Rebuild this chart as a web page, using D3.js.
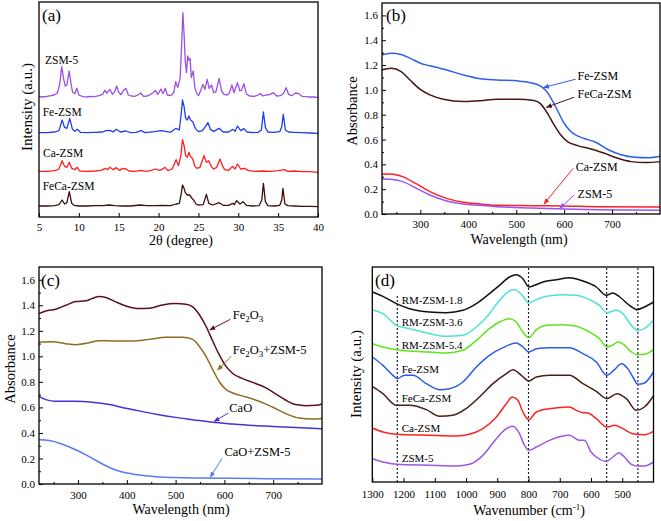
<!DOCTYPE html>
<html><head><meta charset="utf-8">
<script src="https://cdn.jsdelivr.net/npm/d3@7"></script>
<style>
body{margin:0;background:#fff}
svg{display:block}
</style></head>
<body><svg id="c" width="661" height="521" font-family="Liberation Serif"></svg>
<script>
// ---------------- Panel (a) XRD: [2theta, intensity above own baseline] ----------------
const xrdZSM5 = [[5.0,3],[5.5,2],[6.0,4],[6.5,6],[6.9,8],[7.3,14],[7.6,40],[7.85,93],[8.1,55],[8.3,35],[8.5,38],[8.78,80],[9.0,45],[9.2,18],[9.5,12],[9.75,28],[10.0,8],[10.5,3],[11.0,2],[11.5,4],[12.0,3],[12.5,6],[13.0,10],[13.25,22],[13.5,14],[13.9,25],[14.2,10],[14.5,18],[14.75,35],[15.0,16],[15.3,9],[15.55,20],[15.9,28],[16.2,8],[16.6,5],[17.0,4],[17.4,8],[17.75,14],[18.1,4],[18.6,5],[19.0,10],[19.3,15],[19.6,22],[19.9,10],[20.3,26],[20.55,12],[20.85,28],[21.1,8],[21.5,6],[21.9,15],[22.15,48],[22.4,30],[22.7,58],[22.9,160],[23.05,255],[23.2,190],[23.35,110],[23.5,75],[23.65,125],[23.8,112],[23.95,118],[24.1,60],[24.35,80],[24.55,30],[24.8,12],[25.0,6],[25.3,22],[25.55,40],[25.8,25],[26.1,55],[26.35,28],[26.65,38],[26.9,15],[27.2,18],[27.6,58],[27.9,20],[28.2,10],[28.6,8],[28.9,15],[29.2,38],[29.45,15],[29.9,45],[30.2,20],[30.4,22],[30.7,42],[31.0,12],[31.4,5],[32.0,4],[32.5,8],[32.8,12],[33.1,5],[33.5,8],[34.0,10],[34.4,15],[34.8,5],[35.3,6],[35.7,14],[36.0,30],[36.3,10],[36.7,6],[37.2,14],[37.6,12],[38.0,4],[38.5,3],[39.0,2],[39.5,2],[40.0,0]];
const xrdFe = [[5.0,2],[6.0,2],[7.0,4],[7.5,8],[7.9,40],[8.2,18],[8.5,15],[8.85,45],[9.2,12],[9.5,6],[9.8,12],[10.2,3],[11,2],[12,3],[13,4],[13.4,8],[13.9,9],[14.3,4],[14.7,12],[15.2,4],[15.9,7],[16.5,2],[17.2,3],[17.8,8],[18.3,2],[19.5,5],[20.3,8],[20.9,6],[21.5,3],[22.2,15],[22.6,10],[22.85,60],[23.0,100],[23.2,80],[23.4,45],[23.6,40],[23.8,52],[24.0,40],[24.3,35],[24.6,15],[25.0,5],[25.5,8],[25.8,18],[26.2,32],[26.5,12],[26.9,6],[27.6,15],[28.1,4],[28.8,4],[29.3,12],[29.6,6],[29.9,22],[30.3,8],[30.7,14],[31.1,4],[31.8,2],[32.5,3],[32.9,10],[33.15,64],[33.4,18],[33.7,4],[34.5,3],[35.2,5],[35.45,20],[35.65,57],[35.9,10],[36.3,4],[37.0,3],[38,2],[39,1],[40,0]];
const xrdCa = [[5.0,3],[6.0,3],[7.0,5],[7.5,10],[7.9,35],[8.2,18],[8.5,15],[8.8,30],[9.1,12],[9.5,8],[9.8,15],[10.1,4],[11,3],[12,4],[12.8,6],[13.3,12],[13.6,8],[13.9,15],[14.3,8],[14.7,14],[15.1,6],[15.5,12],[15.9,10],[16.3,4],[17.0,3],[17.8,6],[18.4,3],[19.1,6],[19.6,10],[20.1,6],[20.4,8],[20.8,15],[21.2,5],[21.7,10],[22.2,38],[22.5,20],[22.8,50],[23.0,98],[23.2,80],[23.4,50],[23.6,45],[23.8,60],[24.0,48],[24.3,40],[24.5,20],[24.8,12],[25.2,15],[25.7,50],[26.0,30],[26.3,35],[26.6,18],[26.9,10],[27.3,15],[27.7,40],[28.0,20],[28.3,8],[28.8,6],[29.3,18],[29.6,10],[29.9,25],[30.3,10],[30.8,12],[31.3,5],[32.0,3],[33.0,4],[34.0,3],[35.0,5],[35.8,8],[36.2,3],[37,4],[38,2],[39,2],[40,0]];
const xrdFeCa = [[5.0,2],[6.0,2],[7.0,3],[7.5,6],[7.9,20],[8.2,8],[8.5,12],[8.8,45],[9.1,10],[9.4,4],[10,2],[11,2],[12,3],[13,3],[13.8,5],[14.5,3],[15.5,2],[16.5,2],[17.7,5],[18.5,3],[19.5,3],[20.5,4],[21.5,3],[22.2,8],[22.6,10],[22.85,40],[23.0,65],[23.2,55],[23.35,42],[23.6,35],[23.9,35],[24.2,25],[24.4,20],[24.7,8],[25.0,5],[25.6,6],[26.0,37],[26.3,10],[26.8,5],[27.6,12],[28.1,4],[28.8,4],[29.3,10],[29.5,6],[29.8,18],[30.2,8],[30.6,15],[31.0,4],[31.8,2],[32.6,3],[32.95,20],[33.15,70],[33.4,15],[33.7,3],[34.5,2],[35.2,4],[35.45,20],[35.6,55],[35.85,8],[36.2,3],[37,2],[38,1],[39,1],[40,0]];
const xrdNames = ["ZSM-5","Fe-ZSM","Ca-ZSM","FeCa-ZSM"];
const xrdOffsets = [358,251,134,31];
const xrdColors = ["#9b4fe6","#1f3df2","#ff1f1f","#3f0d0d"];
const xrdLabelPos = [[5.75,459],[5.46,304],[5.5,179],[5.46,82]];
const xrdTicks = [5,10,15,20,25,30,35,40];

// ---------------- Panel (b) UV-vis ----------------
const uvbFe = [[220,1.283],[239,1.296],[260,1.285],[278,1.256],[300,1.215],[320,1.194],[340,1.175],[355,1.16],[390,1.12],[425,1.09],[460,1.08],[502,1.073],[530,1.058],[551,1.03],[565,0.98],[582,0.866],[600,0.731],[614,0.664],[642,0.608],[665,0.58],[691,0.52],[719,0.478],[747,0.458],[775,0.454],[800,0.466]];
const uvbFeCa = [[220,1.162],[239,1.175],[260,1.148],[278,1.081],[299,1.006],[320,0.96],[348,0.925],[390,0.906],[425,0.912],[460,0.925],[502,0.925],[537,0.914],[551,0.887],[565,0.812],[579,0.718],[593,0.637],[607,0.583],[628,0.551],[656,0.524],[684,0.489],[712,0.449],[740,0.422],[768,0.414],[800,0.422]];
const uvbCa = [[220,0.32],[239,0.323],[263,0.301],[292,0.242],[320,0.18],[355,0.126],[390,0.094],[425,0.081],[460,0.07],[530,0.067],[600,0.065],[670,0.059],[800,0.056]];
const uvbZSM5 = [[220,0.282],[239,0.28],[263,0.261],[292,0.207],[320,0.153],[355,0.105],[390,0.081],[425,0.07],[460,0.059],[530,0.048],[600,0.04],[670,0.035],[800,0.03]];
const uvbNames = ["Fe-ZSM","FeCa-ZSM","Ca-ZSM","ZSM-5"];
const uvbColors = ["#2f5ef0","#4a1414","#ff2020","#9b52f0"];
const uvbText = [[628,1.08],[628,0.933],[624,0.347],[628,0.129]];
const uvbArrow = [[624,1.086,557,1.019],[621,0.941,563,0.86],[619,0.368,558,0.081],[621,0.153,591,0.046]];

// ---------------- Panel (c) UV-vis ----------------
const uvcFe2O3 = [[220,1.335],[234,1.356],[254,1.369],[275,1.40],[295,1.43],[316,1.435],[329,1.453],[343,1.469],[357,1.461],[377,1.427],[398,1.395],[425,1.374],[446,1.377],[473,1.403],[500,1.414],[521,1.409],[535,1.388],[548,1.33],[562,1.238],[576,1.12],[589,1.015],[603,0.923],[617,0.866],[637,0.826],[664,0.787],[685,0.753],[705,0.706],[726,0.656],[746,0.622],[767,0.614],[788,0.616],[800,0.627]];
const uvcFe2O3Z = [[220,1.112],[247,1.115],[275,1.099],[295,1.091],[323,1.107],[343,1.123],[377,1.12],[411,1.12],[446,1.133],[480,1.149],[514,1.149],[535,1.133],[548,1.081],[562,1.002],[576,0.897],[589,0.805],[603,0.74],[617,0.713],[644,0.682],[671,0.648],[699,0.601],[726,0.551],[753,0.517],[781,0.509],[800,0.514]];
const uvcCaO = [[220,0.687],[234,0.661],[254,0.648],[295,0.648],[329,0.64],[364,0.622],[398,0.593],[432,0.567],[466,0.543],[500,0.522],[535,0.504],[576,0.483],[617,0.47],[658,0.459],[699,0.451],[746,0.443],[800,0.433]];
const uvcCaOZ = [[220,0.346],[241,0.341],[268,0.312],[295,0.268],[323,0.215],[350,0.157],[377,0.11],[411,0.079],[446,0.063],[480,0.052],[548,0.047],[617,0.045],[685,0.042],[800,0.039]];
const uvcColors = ["#5c0f1f","#8f6b1e","#4a30d6","#5a7cf0"];
const uvcText = [[617,1.296],[617,1.015],[610,0.561],[600,0.223]];
const uvcArrow = [[612,1.29,570,1.207],[614,1.0,586,0.892],[608,0.556,579,0.49],[595,0.202,571,0.052]];
const uvTicks = [300,400,500,600,700];
const absTicks = [0,0.2,0.4,0.6,0.8,1.0,1.2,1.4,1.6];

// ---------------- Panel (d) FTIR ----------------
const irRM18 = [[1300,570],[1266,557],[1223,535],[1181,520],[1117,510],[1063,508],[1010,515],[967,535],[925,565],[893,590],[861,615],[839,622],[818,610],[799,585],[781,590],[754,600],[711,607],[669,613],[626,603],[583,585],[551,560],[530,567],[508,555],[477,530],[453,517],[429,525],[400,540]];
const irRM36 = [[1300,517],[1266,505],[1223,470],[1181,460],[1117,445],[1063,437],[1010,440],[967,465],[925,505],[893,545],[861,573],[845,577],[823,563],[799,537],[775,547],[743,557],[690,562],[647,560],[605,547],[573,530],[549,508],[519,515],[498,505],[471,470],[450,455],[429,460],[400,485]];
const irRM54 = [[1300,415],[1266,405],[1223,397],[1181,393],[1117,390],[1063,387],[1010,395],[967,425],[925,460],[893,480],[861,490],[839,480],[818,450],[799,433],[775,457],[743,470],[690,472],[647,467],[605,450],[573,430],[549,405],[532,410],[514,420],[492,410],[471,390],[450,382],[429,383],[400,397]];
const irFe = [[1300,375],[1266,350],[1234,320],[1220,310],[1197,320],[1170,320],[1127,295],[1085,277],[1053,280],[1010,300],[967,345],[925,380],[882,403],[839,417],[818,405],[799,390],[775,400],[733,403],[669,403],[626,385],[583,360],[549,320],[525,337],[503,355],[482,340],[466,315],[450,293],[429,297],[400,330]];
const irFeCa = [[1300,287],[1266,265],[1223,230],[1181,230],[1127,217],[1085,197],[1042,200],[1000,220],[957,255],[914,295],[871,325],[850,337],[823,320],[799,303],[775,315],[733,320],[669,320],[626,295],[583,272],[549,250],[517,265],[487,250],[455,215],[429,225],[400,258]];
const irCa = [[1300,162],[1266,150],[1223,143],[1117,140],[1031,138],[989,143],[946,160],[903,195],[871,235],[852,255],[834,245],[818,210],[799,187],[775,210],[733,220],[669,225],[647,215],[626,208],[610,207],[583,190],[549,165],[525,170],[498,160],[466,145],[429,142],[400,152]];
const irZSM5 = [[1300,70],[1266,60],[1223,53],[1117,50],[1031,48],[989,53],[946,80],[903,130],[871,160],[850,167],[829,145],[813,110],[799,95],[775,105],[733,125],[669,140],[637,125],[621,125],[600,90],[583,75],[551,62],[530,75],[511,88],[493,75],[471,53],[450,48],[429,48],[400,60]];
const irNames = ["RM-ZSM-1.8","RM-ZSM-3.6","RM-ZSM-5.4","Fe-ZSM","FeCa-ZSM","Ca-ZSM","ZSM-5"];
const irColors = ["#111111","#4fe3d3","#5fe41f","#2c5ae8","#4a1e14","#ff2020","#9a58e6"];
const irLabelY = [535,468,398,328,241,151,60];
const irLabelX = 1206;
const irRefLines = [[1220,564],[800,645],[550,645],[450,645]];
const irTicks = [1300,1200,1100,1000,900,800,700,600,500];

// ================= drawing =================
const FF = "Liberation Serif";
const svg = d3.select("#c");
const defs = svg.append("defs");
function marker(id, color){
  defs.append("marker").attr("id",id).attr("viewBox","0 0 10 10").attr("refX",9).attr("refY",5)
    .attr("markerWidth",6).attr("markerHeight",6).attr("orient","auto").attr("markerUnits","userSpaceOnUse")
    .append("path").attr("d","M0,1 L10,5 L0,9 Z").attr("fill",color);
}
function frame(b){
  svg.append("rect").attr("x",b.l).attr("y",b.t).attr("width",b.r-b.l).attr("height",b.b-b.t)
    .attr("fill","none").attr("stroke","#000").attr("stroke-width",1.3);
}
function xAxis(b, x, ticks, minor, fmt, pad){
  const g = svg.append("g").attr("transform",`translate(0,${b.b})`);
  g.call(d3.axisBottom(x).tickValues(ticks).tickSizeInner(-4).tickSizeOuter(0).tickPadding(pad).tickFormat(fmt));
  g.attr("font-family",FF).attr("font-size",11);
  g.select(".domain").remove();
  g.selectAll("text").attr("font-family",FF).attr("font-size",11).attr("fill","#000");
  g.selectAll("line").attr("stroke","#000").attr("stroke-width",1);
  if(minor){
    const m = svg.append("g").attr("transform",`translate(0,${b.b})`);
    m.call(d3.axisBottom(x).tickValues(minor).tickSizeInner(-2).tickSizeOuter(0).tickFormat(""));
    m.select(".domain").remove();
  }
}
function yAxis(b, y, ticks, minor, fmt){
  const g = svg.append("g").attr("transform",`translate(${b.l},0)`);
  g.call(d3.axisLeft(y).tickValues(ticks).tickSizeInner(-4).tickSizeOuter(0).tickPadding(4).tickFormat(fmt));
  g.attr("font-family",FF).attr("font-size",11);
  g.select(".domain").remove();
  g.selectAll("text").attr("font-family",FF).attr("font-size",11).attr("fill","#000");
  if(minor){
    const m = svg.append("g").attr("transform",`translate(${b.l},0)`);
    m.call(d3.axisLeft(y).tickValues(minor).tickSizeInner(-2).tickSizeOuter(0).tickFormat(""));
    m.select(".domain").remove();
  }
}
function ytitle(x, y, txt, fs){
  svg.append("text").attr("transform",`translate(${x},${y}) rotate(-90)`).attr("text-anchor","middle")
    .attr("font-family",FF).attr("font-size",fs).text(txt);
}
function label(x,y,txt,fs,anchor){
  return svg.append("text").attr("x",x).attr("y",y).attr("font-family",FF).attr("font-size",fs)
    .attr("text-anchor",anchor||"start").text(txt);
}
function lineOf(x,y,curve){ return d3.line().x(d=>x(d[0])).y(d=>y(d[1])).curve(curve); }

// ---- (a)
{
  const b = {l:39,r:318,t:2,b:217};
  const x = d3.scaleLinear().domain([5,40]).range([b.l,b.r]);
  const y = d3.scaleLinear().domain([0,645]).range([b.b,b.t]);
  const series = [xrdZSM5,xrdFe,xrdCa,xrdFeCa];
  series.forEach((s,i)=>{
    const ln = d3.line().x(d=>x(d[0])).y(d=>y(d[1]+xrdOffsets[i]));
    svg.append("path").attr("d",ln(s)).attr("fill","none").attr("stroke",xrdColors[i]).attr("stroke-width",1.3).attr("stroke-linejoin","round");
    label(x(xrdLabelPos[i][0]), y(xrdLabelPos[i][1]), xrdNames[i], 11.5);
  });
  frame(b);
  xAxis(b, x, xrdTicks, null, d3.format("d"), 6);
  label(42,21,"(a)",17);
  ytitle(32,107,"Intensity (a.u.)",15);
  label(181,245,"2θ (degree)",14,"middle");
}

// ---- (b)
{
  const b = {l:382,r:660,t:3,b:214};
  const x = d3.scaleLinear().domain([220,800]).range([b.l,b.r]);
  const y = d3.scaleLinear().domain([0,1.7]).range([b.b,b.t]);
  const series = [uvbFe,uvbFeCa,uvbCa,uvbZSM5];
  series.forEach((s,i)=>{
    svg.append("path").attr("d",lineOf(x,y,d3.curveMonotoneX)(s)).attr("fill","none").attr("stroke",uvbColors[i]).attr("stroke-width",1.5);
  });
  series.forEach((s,i)=>{
    marker("mb"+i, uvbColors[i]);
    const a = uvbArrow[i];
    svg.append("line").attr("x1",x(a[0])).attr("y1",y(a[1])).attr("x2",x(a[2])).attr("y2",y(a[3]))
      .attr("stroke",uvbColors[i]).attr("stroke-width",1).attr("marker-end",`url(#mb${i})`);
    label(x(uvbText[i][0]), y(uvbText[i][1]), uvbNames[i], 12);
  });
  frame(b);
  xAxis(b, x, uvTicks, [250,350,450,550,650,750], d3.format("d"), 6);
  yAxis(b, y, absTicks, [0.1,0.3,0.5,0.7,0.9,1.1,1.3,1.5], d3.format(".1f"));
  label(386,21,"(b)",17);
  ytitle(357,111,"Absorbance",14.5);
  label(519,244,"Wavelength (nm)",14,"middle");
}

// ---- (c)
{
  const b = {l:39,r:322,t:267,b:484};
  const x = d3.scaleLinear().domain([220,800]).range([b.l,b.r]);
  const y = d3.scaleLinear().domain([0,1.7]).range([b.b,b.t]);
  const series = [uvcFe2O3,uvcFe2O3Z,uvcCaO,uvcCaOZ];
  series.forEach((s,i)=>{
    svg.append("path").attr("d",lineOf(x,y,d3.curveMonotoneX)(s)).attr("fill","none").attr("stroke",uvcColors[i]).attr("stroke-width",1.5);
  });
  series.forEach((s,i)=>{
    marker("mc"+i, uvcColors[i]);
    const a = uvcArrow[i];
    svg.append("line").attr("x1",x(a[0])).attr("y1",y(a[1])).attr("x2",x(a[2])).attr("y2",y(a[3]))
      .attr("stroke",uvcColors[i]).attr("stroke-width",1).attr("marker-end",`url(#mc${i})`);
  });
  function fe2o3(t){
    t.append("tspan").text("Fe");
    t.append("tspan").attr("dy",3).attr("font-size",9).text("2");
    t.append("tspan").attr("dy",-3).text("O");
    t.append("tspan").attr("dy",3).attr("font-size",9).text("3");
  }
  const t0 = svg.append("text").attr("x",x(uvcText[0][0])).attr("y",y(uvcText[0][1])).attr("font-family",FF).attr("font-size",12.5); fe2o3(t0);
  const t1 = svg.append("text").attr("x",x(uvcText[1][0])).attr("y",y(uvcText[1][1])).attr("font-family",FF).attr("font-size",12.5); fe2o3(t1);
  t1.append("tspan").attr("dy",-3).text("+ZSM-5");
  label(x(uvcText[2][0]), y(uvcText[2][1]), "CaO", 12.5);
  label(x(uvcText[3][0]), y(uvcText[3][1]), "CaO+ZSM-5", 12.5);
  frame(b);
  xAxis(b, x, uvTicks, [250,350,450,550,650,750], d3.format("d"), 7);
  yAxis(b, y, absTicks, [0.1,0.3,0.5,0.7,0.9,1.1,1.3,1.5], d3.format(".1f"));
  label(41,286,"(c)",17);
  ytitle(15,369,"Absorbance",14.5);
  label(181,514,"Wavelength (nm)",14,"middle");
}

// ---- (d)
{
  const b = {l:372.3,r:653.5,t:267,b:482};
  const x = d3.scaleLinear().domain([1300,400]).range([b.l,b.r]);
  const y = d3.scaleLinear().domain([0,645]).range([b.b,b.t]);
  irRefLines.forEach(r=>{
    svg.append("line").attr("x1",x(r[0])).attr("x2",x(r[0])).attr("y1",y(0)).attr("y2",y(r[1]))
      .attr("stroke","#1b1b4d").attr("stroke-width",1.2).attr("stroke-dasharray","2,2");
  });
  const series = [irRM18,irRM36,irRM54,irFe,irFeCa,irCa,irZSM5];
  series.forEach((s,i)=>{
    svg.append("path").attr("d",lineOf(x,y,d3.curveMonotoneX)(s)).attr("fill","none").attr("stroke",irColors[i]).attr("stroke-width",1.5);
    label(x(irLabelX), y(irLabelY[i]), irNames[i], 11);
  });
  frame(b);
  xAxis(b, x, irTicks, null, d3.format("d"), 8);
  label(375,286,"(d)",17);
  ytitle(361,374,"Intensity (a.u.)",15);
  const t = svg.append("text").attr("x",529).attr("y",515).attr("text-anchor","middle").attr("font-family",FF).attr("font-size",14);
  t.append("tspan").text("Wavenumber (cm");
  t.append("tspan").attr("dy",-5).attr("font-size",9).text("-1");
  t.append("tspan").attr("dy",5).text(")");
}
</script></body></html>
